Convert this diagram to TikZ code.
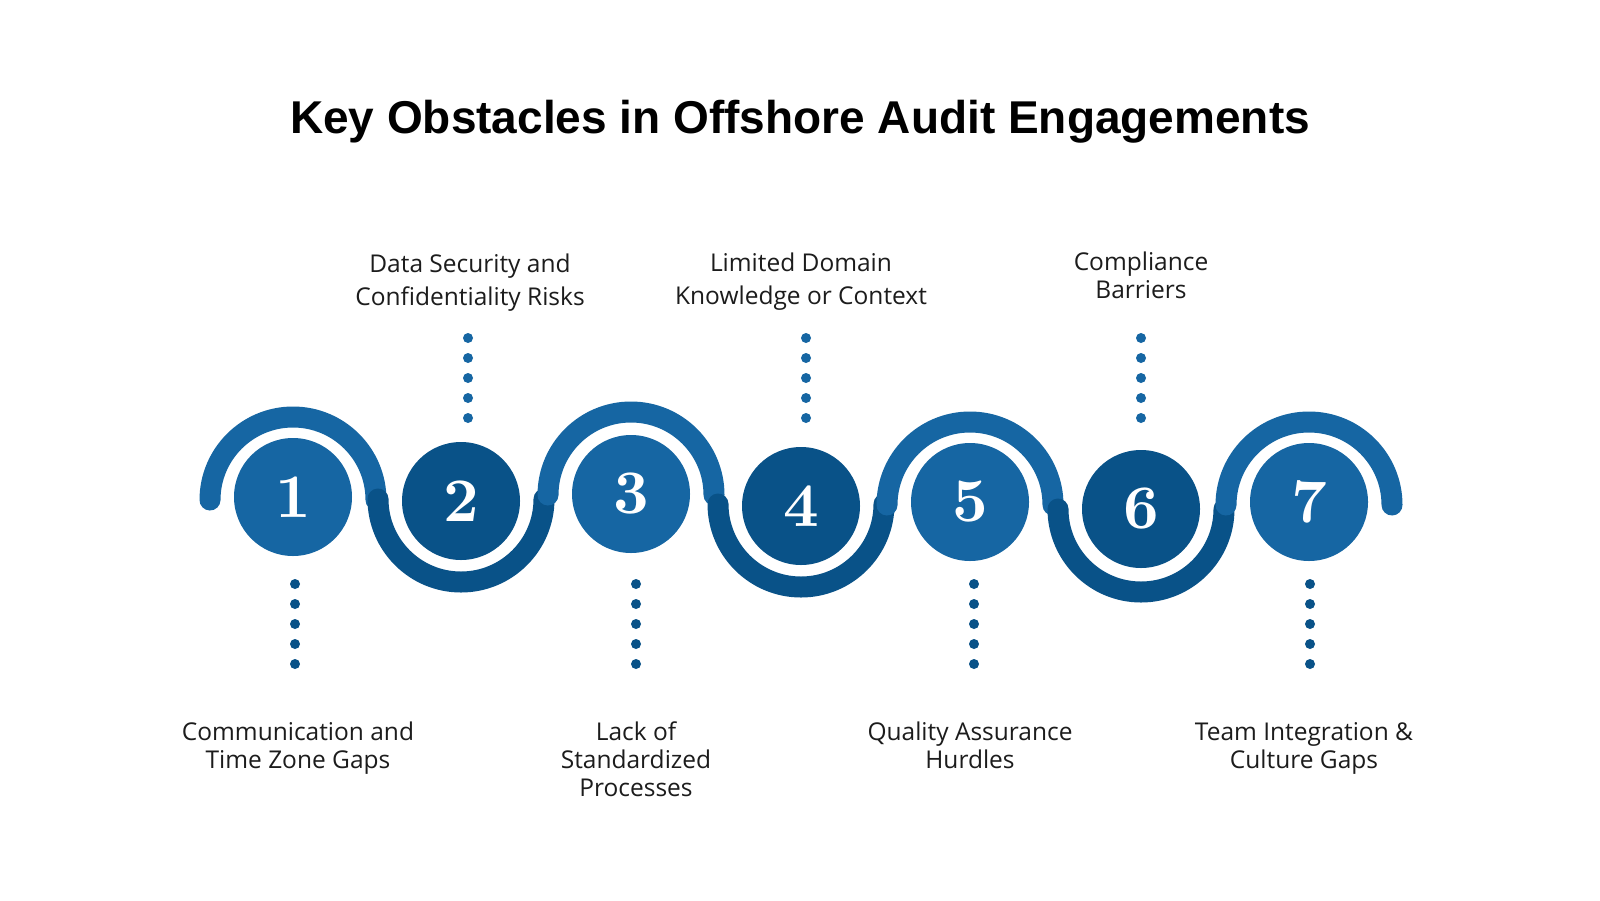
\documentclass[tikz,border=0pt]{standalone}
\usepackage{fontspec}
\setmainfont{Open Sans}
\newfontfamily\titlefont{Liberation Sans}
\newfontfamily\numfont{lmroman10-bold.otf}
\usetikzlibrary{calc}
\definecolor{lightb}{RGB}{22,102,163}
\definecolor{darkb}{RGB}{9,82,136}
\definecolor{txt}{RGB}{28,28,28}
\begin{document}
\begin{tikzpicture}[x=1pt,y=-1pt,
  numcirc/.style={circle, inner sep=0pt, minimum size=118pt, text=white,
    font=\numfont\fontsize{62}{62}\selectfont},
  arcline/.style={line width=21pt, line cap=round},
  dotline/.style={line width=10pt, line cap=round, dash pattern=on 0pt off 20pt},
  lbl/.style={align=center, text=txt, inner sep=0pt},
  lblA/.style={lbl, font=\fontsize{24.5}{28}\selectfont},
  lblB/.style={lbl, font=\fontsize{24.5}{33}\selectfont}]
\useasboundingbox (0,0) rectangle (1600,900);
\fill[white] (0,0) rectangle (1600,900);

% title
\node[inner sep=0pt, font=\titlefont\bfseries\fontsize{46}{46}\selectfont] (title) at (800,122) {Key Obstacles in Offshore Audit Engagements};

% arc centres
\coordinate (a1) at (293,500);
\coordinate (a2) at (461,499);
\coordinate (a3) at (631,495);
\coordinate (a4) at (801,504);
\coordinate (a5) at (970,505);
\coordinate (a6) at (1141,509);
\coordinate (a7) at (1309,505);

% arcs
\draw[arcline, lightb] ($(a1)+(-83,0)$) arc[start angle=180, end angle=0, radius=83pt];
\draw[arcline, darkb]  ($(a2)+(-83,0)$) arc[start angle=180, end angle=360, radius=83pt];
\draw[arcline, lightb] ($(a3)+(-83,0)$) arc[start angle=180, end angle=0, radius=83pt];
\draw[arcline, darkb]  ($(a4)+(-83,0)$) arc[start angle=180, end angle=360, radius=83pt];
\draw[arcline, lightb] ($(a5)+(-83,0)$) arc[start angle=180, end angle=0, radius=83pt];
\draw[arcline, darkb]  ($(a6)+(-83,0)$) arc[start angle=180, end angle=360, radius=83pt];
\draw[arcline, lightb] ($(a7)+(-83,0)$) arc[start angle=180, end angle=0, radius=83pt];

% number circles
\node[numcirc, fill=lightb] (c1) at (293,497) {1};
\node[numcirc, fill=darkb]  (c2) at (461,501) {2};
\node[numcirc, fill=lightb] (c3) at (631,494) {3};
\node[numcirc, fill=darkb]  (c4) at (801,506) {4};
\node[numcirc, fill=lightb] (c5) at (970,502) {5};
\node[numcirc, fill=darkb]  (c6) at (1141,509) {6};
\node[numcirc, fill=lightb] (c7) at (1309,502) {7};

% dotted leaders
\coordinate (t2s) at (468,338);  \coordinate (t2e) at (468,419);
\coordinate (t4s) at (806,338);  \coordinate (t4e) at (806,419);
\coordinate (t6s) at (1141,338); \coordinate (t6e) at (1141,419);
\coordinate (b1s) at (295,584);  \coordinate (b1e) at (295,665);
\coordinate (b3s) at (636,584);  \coordinate (b3e) at (636,665);
\coordinate (b5s) at (974,584);  \coordinate (b5e) at (974,665);
\coordinate (b7s) at (1310,584); \coordinate (b7e) at (1310,665);
\draw[dotline, lightb] (t2s) -- (t2e);
\draw[dotline, lightb] (t4s) -- (t4e);
\draw[dotline, lightb] (t6s) -- (t6e);
\draw[dotline, darkb] (b1s) -- (b1e);
\draw[dotline, darkb] (b3s) -- (b3e);
\draw[dotline, darkb] (b5s) -- (b5e);
\draw[dotline, darkb] (b7s) -- (b7e);

% labels
\node[lblB] (l2) at (470,282.5) {Data Security and\\Confidentiality Risks};
\node[lblB] (l4) at (801,281.5) {Limited Domain\\Knowledge or Context};
\node[lblA] (l6) at (1141,275) {Compliance\\Barriers};
\node[lblA] (l1) at (298,748) {Communication and\\Time Zone Gaps};
\node[lblA] (l3) at (636,759) {Lack of\\Standardized\\Processes};
\node[lblA] (l5) at (970,745) {Quality Assurance\\Hurdles};
\node[lblA] (l7) at (1304,748) {Team Integration \&\\Culture Gaps};
\end{tikzpicture}
\end{document}
